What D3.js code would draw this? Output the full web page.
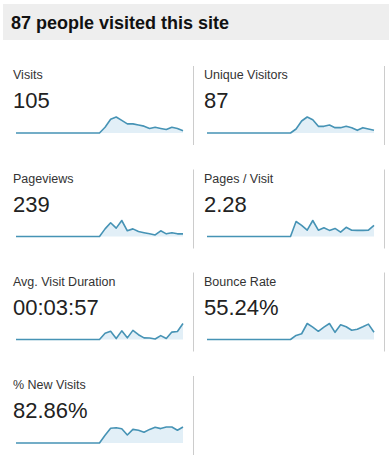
<!DOCTYPE html>
<html lang="en">
<head>
<meta charset="utf-8">
<script src="https://cdn.jsdelivr.net/npm/d3@7/dist/d3.min.js"></script>
<style>
  body { margin: 0; background: #fff; }
  text { font-family: Arial, "Liberation Sans", sans-serif; }
</style>
<title>87 people visited this site</title>
</head>
<body>
<script>

var title = "87 people visited this site";

var metricNames = ["Visits", "Unique Visitors", "Pageviews", "Pages / Visit",
                   "Avg. Visit Duration", "Bounce Rate", "% New Visits"];
var metricValues = ["105", "87", "239", "2.28", "00:03:57", "55.24%", "82.86%"];

// daily values, 31 days; the site had no traffic for the first half
var visits         = [0,0,0,0,0,0,0,0,0,0,0,0,0,0,0,0, 5,12,14,11,8,8,7,6,4,5,4,3,5,4,2];
var uniqueVisitors = [0,0,0,0,0,0,0,0,0,0,0,0,0,0,0,0, 3,9,12,10,5,5,6,4,4,5,4,2,4,3,2];
var pageviews      = [0,0,0,0,0,0,0,0,0,0,0,0,0,0,0,0, 20,36,22,42,15,20,13,10,7,4,15,7,10,7,7];
var pagesPerVisit  = [0,0,0,0,0,0,0,0,0,0,0,0,0,0,0,0, 3.1,2.3,1.3,3.3,1.3,1.8,1.26,1.66,0.9,1.9,1.3,1.26,1.26,1.3,2.3];
var avgDuration    = [0,0,0,0,0,0,0,0,0,0,0,0,0,0,0,0, 156,204,24,216,41,228,120,41,36,12,96,24,185,199,400];
var bounceRate     = [0,0,0,0,0,0,0,0,0,0,0,0,0,0,0,0, 20,28,78,60,40,60,78,35,72,62,45,50,62,75,35];
var newVisits      = [0,0,0,0,0,0,0,0,0,0,0,0,0,0,0,0, 48,92,95,89,50,85,80,67,85,98,90,100,100,80,100];

var series = [visits, uniqueVisitors, pageviews, pagesPerVisit, avgDuration, bounceRate, newVisits];

var w = 389;
var h = 469;

var svg = d3.select("body")
  .append("svg")
  .attr("width", w)
  .attr("height", h);

// header bar
svg.append("rect")
  .attr("x", 3)
  .attr("y", 4)
  .attr("width", w - 3)
  .attr("height", 36)
  .attr("fill", "#eeeeee");

svg.append("text")
  .attr("x", 11)
  .attr("y", 29)
  .style("font-size", "18px")
  .style("font-weight", "bold")
  .attr("fill", "#111")
  .text(title);

var colX = [13, 204];
var rowY = [66, 169.5, 272.5, 376];
var sparkW = 167;
var sparkH = 16;

var xScale = d3.scaleLinear()
  .domain([0, visits.length - 1])
  .range([0, sparkW]);

metricNames.forEach(function(name, i) {
  var px = colX[i % 2];
  var py = rowY[Math.floor(i / 2)];
  var g = svg.append("g").attr("transform", "translate(" + px + "," + py + ")");

  g.append("line")
    .attr("x1", 180.5).attr("x2", 180.5)
    .attr("y1", 0).attr("y2", 79)
    .attr("stroke", "#cccccc");

  g.append("text")
    .attr("x", 0)
    .attr("y", 13)
    .style("font-size", "12.5px")
    .attr("fill", "#333")
    .text(name);

  g.append("text")
    .attr("x", 0)
    .attr("y", 42)
    .style("font-size", "22px")
    .attr("fill", "#222")
    .text(metricValues[i]);

  var data = series[i];
  var yScale = d3.scaleLinear()
    .domain([0, d3.max(data)])
    .range([67, 67 - sparkH]);

  var area = d3.area()
    .x(function(d, j) { return 3 + xScale(j); })
    .y0(67)
    .y1(function(d) { return yScale(d); });

  var line = d3.line()
    .x(function(d, j) { return 3 + xScale(j); })
    .y(function(d) { return yScale(d); });

  g.append("path")
    .datum(data)
    .attr("d", area)
    .attr("fill", "#e2eff7");

  g.append("path")
    .datum(data)
    .attr("d", line)
    .attr("fill", "none")
    .attr("stroke", "#4693b5")
    .attr("stroke-width", 1.6)
    .attr("stroke-linejoin", "round");
});

</script>
</body>
</html>
